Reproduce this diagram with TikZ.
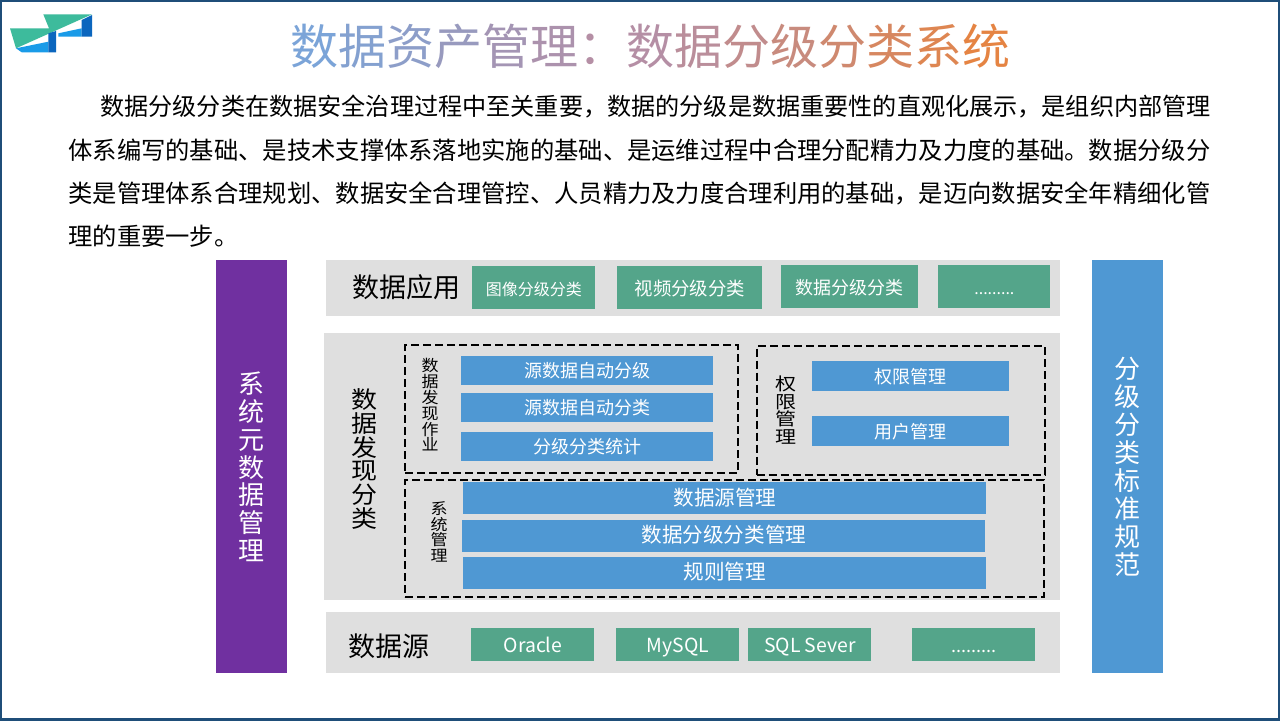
\documentclass[tikz,border=0pt]{standalone}
\usepackage{fontspec}
\setmainfont{Noto Sans CJK SC}
\usepackage{xcolor,graphicx}
\definecolor{framecol}{HTML}{1F4E79}
\definecolor{bandgray}{HTML}{DFDFDF}
\definecolor{tealbox}{HTML}{54A58A}
\definecolor{bluebox}{HTML}{4F98D3}
\definecolor{purplebar}{HTML}{7030A0}
\definecolor{titleL}{HTML}{7BA4D8}
\definecolor{titleM}{HTML}{B58FA5}
\definecolor{titleR}{HTML}{E58443}
\definecolor{logoG}{HTML}{3DBB9C}
\definecolor{logoB}{HTML}{1A9BE8}
\definecolor{logoD}{HTML}{0B66BE}
\newcommand{\tca}[2]{\textcolor{titleM!#1!titleL}{#2}}
\newcommand{\tcb}[2]{\textcolor{titleR!#1!titleM}{#2}}
\newcommand{\fsz}[2]{\fontsize{#1}{#2}\selectfont\lineskiplimit=-20pt\relax}
% squeezed column of characters: y factor, font size, lines
\newcommand{\stk}[3]{\scalebox{1}[#1]{\parbox{20pt}{\fsz{#2}{#2}\centering #3\par}}}
\tikzstyle{band} = [rectangle, fill=bandgray, inner sep=0pt, anchor=north west]
\tikzstyle{tealnode} = [rectangle, fill=tealbox, text=white, inner sep=0pt, anchor=north west, text height=0.88em, text depth=0.12em, font=\fontsize{8}{8}\selectfont]
\tikzstyle{bluenode} = [rectangle, fill=bluebox, text=white, inner sep=0pt, anchor=north west, text height=0.83em, text depth=0.17em, font=\fontsize{9}{9}\selectfont]
\tikzstyle{dashbox} = [rectangle, draw=black, line width=1pt, dash pattern=on 4pt off 2pt, inner sep=0pt, anchor=north west]
\tikzstyle{bodyline} = [anchor=west, inner sep=0pt, font=\fontsize{12.15}{12.15}\selectfont]
\tikzstyle{sidelabel} = [inner sep=0pt, align=center]
\tikzstyle{sidebar} = [rectangle, inner sep=0pt, text=white, align=center, anchor=north west, font=\fsz{13}{13.9}]
\begin{document}
\begin{tikzpicture}[x=0.5pt,y=-0.5pt]
    \useasboundingbox (0,0) rectangle (1280,720);
    \fill[white] (0,0) rectangle (1280,720);
    \draw[framecol, line width=1.2pt] (0.6,0.6) rectangle (1279.4,719.4);
    % logo
    \fill[logoG] (43.3,14.3) -- (92,14.3) -- (16,48.3) -- (10,28.3) -- (49,28.3) -- cycle;
    \fill[logoB] (16,48.3) -- (21.7,52.3) -- (48.3,52.3) -- (48.3,41.7) -- cycle;
    \fill[logoD] (48.3,33.3) -- (56,31) -- (56,52.3) -- (48.3,52.3) -- cycle;
    \fill[logoB] (58.3,36.7) -- (81.7,36.7) -- (81.7,28.3) -- (58.3,33.3) -- cycle;
    \fill[logoD] (81.7,20) -- (92,15) -- (92,36.7) -- (81.7,36.7) -- cycle;
    % title
    \node (title) at (650,46) [inner sep=0pt, font=\fontsize{24}{24}\selectfont]
      {\tca{0}{数}\tca{15}{据}\tca{30}{资}\tca{50}{产}\tca{70}{管}\tca{85}{理}\tca{100}{：}\tca{100}{数}\tcb{10}{据}\tcb{25}{分}\tcb{40}{级}\tcb{55}{分}\tcb{70}{类}\tcb{85}{系}\tcb{100}{统}};
    % text lines
    \node (line1) at (100,106.5) [bodyline, font=\fontsize{12.07}{12.07}\selectfont] {数据分级分类在数据安全治理过程中至关重要，数据的分级是数据重要性的直观化展示，是组织内部管理};
    \node (line2) at (68,150) [bodyline] {体系编写的基础、是技术支撑体系落地实施的基础、是运维过程中合理分配精力及力度的基础。数据分级分};
    \node (line3) at (68,193) [bodyline] {类是管理体系合理规划、数据安全合理管控、人员精力及力度合理利用的基础，是迈向数据安全年精细化管};
    \node (line4) at (68,236) [bodyline] {理的重要一步。};
    % side bars
    \node (meta) at (216,260) [sidebar, fill=purplebar, minimum width=35.5pt, minimum height=206.5pt] {系\\统\\元\\数\\据\\管\\理};
    \node (norm) at (1092,260) [sidebar, fill=bluebox, minimum width=35.5pt, minimum height=206.5pt, font=\fsz{13}{14}] {分\\级\\分\\类\\标\\准\\规\\范};
    % bands
    \node (appband) at (326,260) [band, minimum width=367pt, minimum height=28pt] {};
    \node (findband) at (324,333) [band, minimum width=368pt, minimum height=133.5pt] {};
    \node (srcband) at (326,612) [band, minimum width=367pt, minimum height=30.5pt] {};
    % top row
    \node (applabel) at (406,287) [sidelabel, font=\fontsize{13.5}{13.5}\selectfont] {数据应用};
    \node (app1) at (472,266) [tealnode, minimum width=61.5pt, minimum height=21.5pt] {图像分级分类};
    \node (app2) at (617,266) [tealnode, minimum width=72.5pt, minimum height=21.5pt, font=\fontsize{9.2}{9.2}\selectfont] {视频分级分类};
    \node (app3) at (781,265) [tealnode, minimum width=68.5pt, minimum height=21.5pt, font=\fontsize{9}{9}\selectfont] {数据分级分类};
    \node (app4) at (938,265) [tealnode, minimum width=56pt, minimum height=21.5pt] {.........};
    % middle
    \node (findlabel) at (364,459) [sidelabel] {\stk{0.91}{13}{数\\据\\发\\现\\分\\类}};
    \node (jobbox) at (404,344) [dashbox, minimum width=166.5pt, minimum height=64pt] {};
    \node (permbox) at (755.5,344.5) [dashbox, minimum width=144pt, minimum height=64.5pt] {};
    \node (sysbox) at (404,479) [dashbox, minimum width=319.5pt, minimum height=58.5pt] {};
    \node (joblabel) at (430,405) [sidelabel] {\stk{0.93}{8.5}{数\\据\\发\\现\\作\\业}};
    \node (job1) at (461,356) [bluenode, minimum width=126pt, minimum height=14.5pt] {源数据自动分级};
    \node (job2) at (461,393) [bluenode, minimum width=126pt, minimum height=14.5pt] {源数据自动分类};
    \node (job3) at (461,432) [bluenode, minimum width=126pt, minimum height=14.5pt] {分级分类统计};
    \node (permlabel) at (786,410) [sidelabel] {\stk{0.83}{10.5}{权\\限\\管\\理}};
    \node (perm1) at (812,361) [bluenode, minimum width=98.5pt, minimum height=15pt] {权限管理};
    \node (perm2) at (812,416) [bluenode, minimum width=98.5pt, minimum height=15pt] {用户管理};
    \node (syslabel) at (439,532) [sidelabel] {\stk{0.91}{8.5}{系\\统\\管\\理}};
    \node (sys1) at (463,482) [bluenode, minimum width=261.5pt, minimum height=16pt, font=\fontsize{10.3}{10.3}\selectfont] {数据源管理};
    \node (sys2) at (462,519.5) [bluenode, minimum width=261.5pt, minimum height=16pt, font=\fontsize{10.3}{10.3}\selectfont] {数据分级分类管理};
    \node (sys3) at (463,556.5) [bluenode, minimum width=261.5pt, minimum height=16pt, font=\fontsize{10.3}{10.3}\selectfont] {规则管理};
    % bottom row
    \node (srclabel) at (389,646) [sidelabel, font=\fontsize{13.5}{13.5}\selectfont] {数据源};
    \node (src1) at (471,628) [tealnode, minimum width=61.5pt, minimum height=16.5pt, font=\fontsize{9.7}{9.7}\selectfont] {Oracle};
    \node (src2) at (616,628) [tealnode, minimum width=61.5pt, minimum height=16.5pt, font=\fontsize{9.7}{9.7}\selectfont] {MySQL};
    \node (src3) at (748,628) [tealnode, minimum width=61.5pt, minimum height=16.5pt, font=\fontsize{9.7}{9.7}\selectfont] {SQL Sever};
    \node (src4) at (912,628) [tealnode, minimum width=61.5pt, minimum height=16.5pt, font=\fontsize{9}{9}\selectfont] {.........};
\end{tikzpicture}
\end{document}
